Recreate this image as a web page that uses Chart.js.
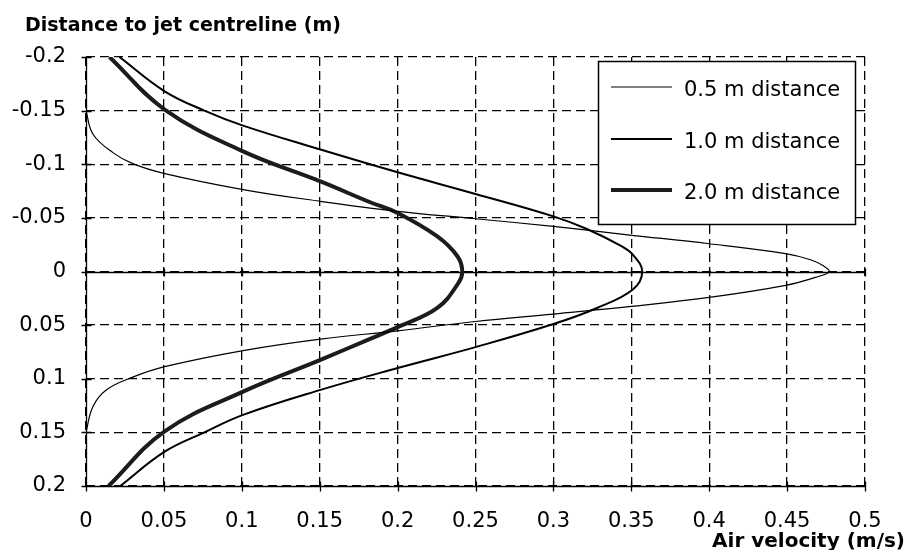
<!DOCTYPE html>
<html>
<head>
<meta charset="utf-8">
<script src="https://cdn.jsdelivr.net/npm/chart.js@4.4.1/dist/chart.umd.min.js"></script>
<style>
  html, body { margin: 0; padding: 0; background: #fff; }
  #wrap { width: 907px; height: 550px; }
</style>
</head>
<body>
<div id="wrap"><canvas id="c" width="907" height="550"></canvas></div>
<script>
const FONT = '"DejaVu Sans", "Liberation Sans", sans-serif';
const Y_TITLE = 'Distance to jet centreline (m)';
const X_TITLE = 'Air velocity (m/s)';
const X_TICKS = [0, 0.05, 0.1, 0.15, 0.2, 0.25, 0.3, 0.35, 0.4, 0.45, 0.5];
const Y_TICKS = [-0.2, -0.15, -0.1, -0.05, 0, 0.05, 0.1, 0.15, 0.2];
const SERIES = ['0.5 m distance', '1.0 m distance', '2.0 m distance'];

// distance (m) and air velocity (m/s)
const D_05 = [-0.15, -0.128, -0.1106, -0.1006, -0.0913, -0.0764, -0.0655, -0.0561, -0.0492, -0.042, -0.034, -0.0259, -0.0166, -0.011, -0.0055, 0,
  0.0047, 0.013, 0.0242, 0.0326, 0.0397, 0.0466, 0.0553, 0.063, 0.0737, 0.0887, 0.0985, 0.1104, 0.126, 0.15];
const V_05 = [0, 0.0045, 0.0175, 0.030, 0.0506, 0.1008, 0.150, 0.200, 0.250, 0.300, 0.349, 0.400, 0.449, 0.465, 0.473, 0.477,
  0.470, 0.449, 0.400, 0.350, 0.300, 0.250, 0.200, 0.1505, 0.1008, 0.0505, 0.030, 0.013, 0.0044, 0];

const D_10 = [-0.2, -0.168, -0.15, -0.136, -0.1137, -0.0925, -0.0723, -0.0514, -0.0396, -0.0234, -0.0157, 0,
  0.0168, 0.034, 0.049, 0.0705, 0.090, 0.1104, 0.1337, 0.15, 0.168, 0.2];
const V_10 = [0.0215, 0.0505, 0.076, 0.1008, 0.1505, 0.200, 0.250, 0.300, 0.3215, 0.344, 0.351, 0.357,
  0.351, 0.328, 0.300, 0.250, 0.200, 0.1505, 0.1008, 0.076, 0.0505, 0.022];

const D_20 = [-0.2, -0.151, -0.112, -0.084, -0.0648, -0.0546, -0.0327, -0.014, 0,
  0.0108, 0.034, 0.0519, 0.063, 0.0824, 0.112, 0.149, 0.2];
const V_20 = [0.0151, 0.0505, 0.1008, 0.1505, 0.182, 0.200, 0.2255, 0.2385, 0.2415,
  0.239, 0.2255, 0.200, 0.182, 0.1505, 0.1008, 0.0505, 0.0145];

const WIDTHS = [1.2, 2, 4];
const LINE_COLORS = ['#000', '#000', '#1c1c1c'];

function pts(d, v) {
  return d.map((y, i) => ({ x: v[i], y }));
}

function dataset(i, d, v) {
  return {
    label: SERIES[i],
    data: pts(d, v),
    showLine: true,
    borderColor: LINE_COLORS[i],
    borderWidth: WIDTHS[i],
    pointRadius: 0,
    tension: 0.4,
    fill: false,
  };
}

// solid axes at x=0, y=0 and bottom, with cross tick marks
const axesPlugin = {
  id: 'axes',
  beforeDatasetsDraw(chart) {
    const { ctx, chartArea: a, scales: { x, y } } = chart;
    ctx.save();
    ctx.strokeStyle = '#000';
    ctx.lineWidth = 1.3;
    const x0 = Math.round(x.getPixelForValue(0)) + 0.5;
    const y0 = Math.round(y.getPixelForValue(0)) + 0.5;
    const yb = Math.round(a.bottom) + 0.5;
    ctx.beginPath();
    ctx.moveTo(x0, a.top); ctx.lineTo(x0, a.bottom + 4);
    ctx.moveTo(a.left, y0); ctx.lineTo(a.right, y0);
    ctx.moveTo(a.left - 4, yb); ctx.lineTo(a.right, yb);
    X_TICKS.forEach(t => {
      const px = Math.round(x.getPixelForValue(t)) + 0.5;
      ctx.moveTo(px, yb - 5); ctx.lineTo(px, yb + 5);
      ctx.moveTo(px, y0 - 4); ctx.lineTo(px, y0 + 4);
    });
    Y_TICKS.forEach(t => {
      const py = Math.round(y.getPixelForValue(t)) + 0.5;
      ctx.moveTo(x0 - 5, py); ctx.lineTo(x0 + 5, py);
    });
    ctx.stroke();
    ctx.restore();
  },
  afterDraw(chart) {
    const { ctx } = chart;
    ctx.save();
    ctx.fillStyle = '#000';
    ctx.font = 'bold 19px ' + FONT;
    ctx.textBaseline = 'alphabetic';
    ctx.textAlign = 'left';
    ctx.fillText(Y_TITLE, 25, 31);
    ctx.font = 'bold 20px ' + FONT;
    ctx.textAlign = 'right';
    ctx.fillText(X_TITLE, 905, 547);

    // legend box
    const L = 598, T = 61, R = 855, B = 224;
    ctx.fillStyle = '#fff';
    ctx.fillRect(L, T, R - L, B - T);
    ctx.strokeStyle = '#000';
    ctx.lineWidth = 1.5;
    ctx.strokeRect(L + 0.5, T + 0.5, R - L, B - T);
    const rows = [91, 143, 194];
    ctx.font = '21px ' + FONT;
    ctx.textAlign = 'left';
    ctx.textBaseline = 'middle';
    SERIES.forEach((s, i) => {
      ctx.strokeStyle = LINE_COLORS[i];
      ctx.lineWidth = WIDTHS[i];
      ctx.beginPath();
      ctx.moveTo(611, rows[i] - 4);
      ctx.lineTo(672, rows[i] - 4);
      ctx.stroke();
      ctx.fillStyle = '#000';
      ctx.fillText(s, 684, rows[i]);
    });
    ctx.restore();
  },
};

new Chart(document.getElementById('c'), {
  type: 'scatter',
  data: {
    datasets: [
      dataset(0, D_05, V_05),
      dataset(1, D_10, V_10),
      dataset(2, D_20, V_20),
    ],
  },
  options: {
    responsive: false,
    animation: false,
    layout: { padding: { top: 57, right: 42, left: 0, bottom: 0 } },
    plugins: {
      legend: { display: false },
      title: { display: false },
      tooltip: { enabled: false },
    },
    scales: {
      x: {
        type: 'linear',
        min: 0,
        max: 0.5,
        afterBuildTicks: s => { s.ticks = X_TICKS.map(v => ({ value: v })); },
        afterFit: s => { s.height = 64; },
        ticks: {
          color: '#000',
          padding: 23,
          maxRotation: 0,
          font: { family: FONT, size: 21 },
          callback: v => String(v),
        },
        grid: { color: '#000', lineWidth: 1.3, drawTicks: false },
        border: { display: false, dash: [9, 5] },
      },
      y: {
        type: 'linear',
        reverse: true,
        min: -0.2,
        max: 0.2,
        afterBuildTicks: s => { s.ticks = Y_TICKS.map(v => ({ value: v })); },
        afterFit: s => { s.width = 86; },
        ticks: {
          color: '#000',
          padding: 20,
          font: { family: FONT, size: 21 },
          callback: v => String(v),
        },
        grid: { color: '#000', lineWidth: 1.3, drawTicks: false },
        border: { display: false, dash: [9, 5] },
      },
    },
  },
  plugins: [axesPlugin],
});
</script>
</body>
</html>
